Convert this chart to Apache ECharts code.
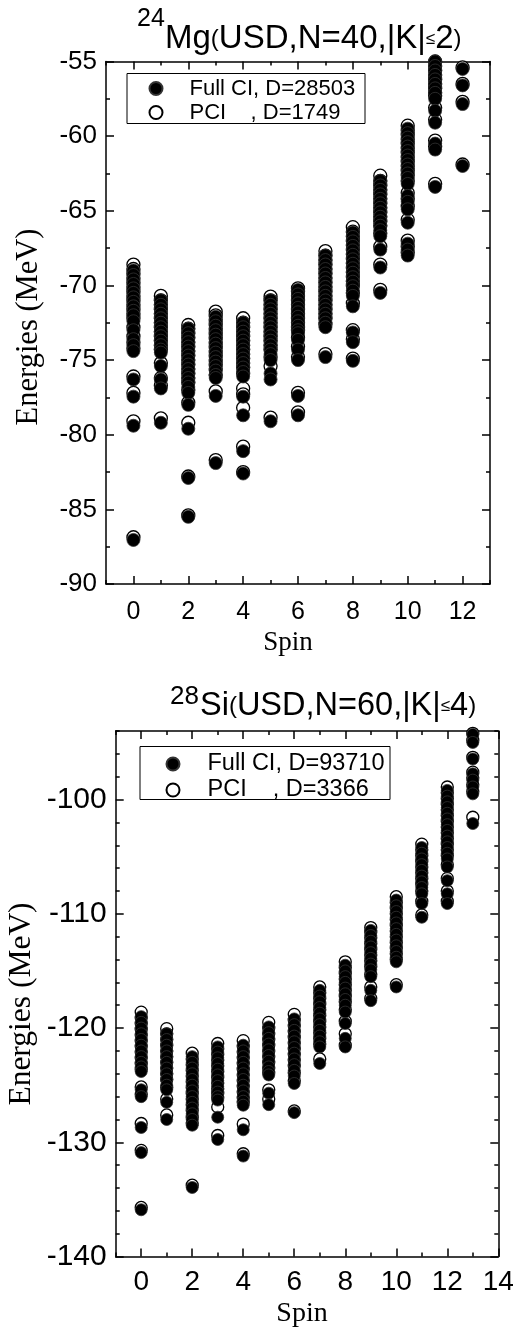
<!DOCTYPE html>
<html><head><meta charset="utf-8">
<script src="https://cdn.jsdelivr.net/npm/echarts@6/dist/echarts.min.js"></script>
<style>html,body{margin:0;padding:0;background:#fff}#c{width:517px;height:1330px}</style>
</head><body><div id="c"></div>
<script>
// ---------- 24Mg (USD, N=40, |K|<=2) ----------
const mgSpins = [0,1,2,3,4,5,6,7,8,9,10,11,12];
const mgFullCI = [
  [-69.0,-69.3,-69.6,-69.9,-70.2,-70.5,-70.8,-71.1,-71.4,-71.7,-72.0,-72.4,-73.0,-73.6,-74.0,-74.4,-76.3,-77.45,-79.4,-87.05],
  [-71.0,-71.3,-71.6,-71.9,-72.2,-72.5,-72.8,-73.1,-73.4,-73.7,-74.0,-74.3,-74.5,-75.4,-76.3,-76.9,-79.2],
  [-72.9,-73.2,-73.5,-73.8,-74.1,-74.4,-74.7,-75.0,-75.3,-75.6,-75.9,-76.2,-76.5,-76.8,-77.2,-78.0,-79.6,-82.9,-85.5],
  [-72.1,-72.4,-72.7,-73.0,-73.3,-73.6,-73.9,-74.2,-74.5,-74.8,-75.1,-75.4,-75.7,-76.0,-76.2,-77.4,-81.9],
  [-72.5,-72.8,-73.1,-73.4,-73.7,-74.0,-74.3,-74.6,-74.9,-75.2,-75.5,-75.8,-76.1,-77.45,-78.7,-81.1,-82.6],
  [-71.0,-71.3,-71.6,-71.9,-72.2,-72.5,-72.8,-73.1,-73.4,-73.7,-74.0,-74.3,-74.6,-75.0,-75.9,-76.3,-79.1],
  [-70.3,-70.6,-70.9,-71.2,-71.5,-71.8,-72.1,-72.4,-72.7,-73.0,-73.2,-73.65,-74.3,-75.0,-77.4,-78.7],
  [-68.0,-68.3,-68.6,-68.9,-69.2,-69.5,-69.8,-70.1,-70.4,-70.7,-71.0,-71.3,-71.6,-71.9,-72.2,-72.5,-72.8,-74.8],
  [-66.45,-66.75,-67.05,-67.35,-67.65,-67.95,-68.25,-68.55,-68.85,-69.15,-69.45,-69.75,-70.05,-70.35,-70.7,-71.4,-73.15,-73.8,-75.05],
  [-63.0,-63.3,-63.6,-63.9,-64.2,-64.5,-64.8,-65.1,-65.4,-65.7,-66.0,-66.3,-66.7,-67.6,-68.8,-70.5],
  [-59.5,-59.8,-60.1,-60.4,-60.7,-61.0,-61.3,-61.6,-61.9,-62.2,-62.5,-62.8,-63.2,-64.0,-64.4,-64.9,-65.8,-67.2,-67.6,-68.0],
  [-55.0,-55.3,-55.6,-55.9,-56.2,-56.5,-56.8,-57.1,-57.5,-58.3,-59.1,-60.5,-60.9,-63.4],
  [-55.5,-56.6,-57.85,-62.0]
];
const mgPCI = [
  [-68.6,-68.9,-69.2,-69.5,-69.8,-70.1,-70.4,-70.7,-71.0,-71.3,-71.6,-71.9,-72.2,-72.8,-73.4,-73.8,-74.2,-76.1,-77.2,-79.1,-86.87],
  [-70.7,-71.0,-71.3,-71.6,-71.9,-72.2,-72.5,-72.8,-73.1,-73.4,-73.7,-74.0,-74.3,-75.2,-76.2,-76.7,-78.9],
  [-72.65,-72.9,-73.2,-73.5,-73.8,-74.1,-74.4,-74.7,-75.0,-75.3,-75.6,-75.9,-76.2,-76.5,-77.0,-77.85,-79.2,-82.8,-85.4],
  [-71.75,-72.0,-72.3,-72.6,-72.9,-73.2,-73.5,-73.8,-74.1,-74.4,-74.7,-75.0,-75.3,-75.6,-76.0,-77.1,-81.7],
  [-72.2,-72.5,-72.8,-73.1,-73.4,-73.7,-74.0,-74.3,-74.6,-74.9,-75.2,-75.5,-75.9,-76.9,-77.3,-78.2,-80.8,-82.5],
  [-70.75,-71.0,-71.3,-71.6,-71.9,-72.2,-72.5,-72.8,-73.1,-73.4,-73.7,-74.0,-74.3,-74.8,-75.4,-78.85],
  [-70.2,-70.4,-70.7,-71.0,-71.3,-71.6,-71.9,-72.2,-72.5,-72.8,-73.0,-73.5,-74.1,-74.8,-77.2,-78.5],
  [-67.7,-68.0,-68.3,-68.6,-68.9,-69.2,-69.5,-69.8,-70.1,-70.4,-70.7,-71.0,-71.3,-71.6,-71.9,-72.2,-72.6,-74.6],
  [-66.1,-66.4,-66.7,-67.0,-67.3,-67.6,-67.9,-68.2,-68.5,-68.8,-69.1,-69.4,-69.7,-70.0,-70.5,-71.2,-73.0,-73.6,-74.9],
  [-62.65,-63.0,-63.3,-63.6,-63.9,-64.2,-64.5,-64.8,-65.1,-65.4,-65.7,-66.0,-66.5,-67.4,-68.6,-70.3],
  [-59.3,-59.6,-59.9,-60.2,-60.5,-60.8,-61.1,-61.4,-61.7,-62.0,-62.3,-62.6,-63.0,-63.8,-64.2,-64.7,-65.6,-67.0,-67.4,-67.8],
  [-55.0,-55.3,-55.6,-55.9,-56.2,-56.5,-56.8,-57.1,-57.3,-58.1,-58.9,-60.3,-60.7,-63.2],
  [-55.4,-56.5,-57.7,-61.9]
];
const mgXTicks = [0,2,4,6,8,10,12];
const mgYTicks = [-90,-85,-80,-75,-70,-65,-60,-55];

// ---------- 28Si (USD, N=60, |K|<=4) ----------
const siSpins = [0,1,2,3,4,5,6,7,8,9,10,11,12,13];
const siFullCI = [
  [-119.0,-119.5,-120.0,-120.5,-121.0,-121.5,-122.0,-122.5,-123.0,-123.4,-123.8,-125.4,-126.0,-128.7,-130.9,-135.9],
  [-120.5,-121.0,-121.5,-122.0,-122.5,-123.0,-123.5,-124.0,-124.5,-125.0,-125.4,-126.5,-128.0],
  [-122.5,-123.0,-123.5,-124.0,-124.5,-125.0,-125.5,-126.0,-126.5,-127.0,-127.5,-128.0,-128.5,-133.95],
  [-121.65,-122.1,-122.6,-123.1,-123.6,-124.1,-124.6,-125.1,-125.6,-126.0,-126.3,-127.8,-129.75],
  [-121.5,-122.0,-122.5,-123.0,-123.5,-124.0,-124.5,-125.0,-125.5,-126.0,-126.4,-126.75,-128.9,-131.2],
  [-119.9,-120.4,-120.9,-121.4,-121.9,-122.4,-122.9,-123.4,-123.8,-124.1,-125.7,-126.7],
  [-119.2,-119.7,-120.2,-120.7,-121.2,-121.7,-122.2,-122.7,-123.2,-123.7,-124.2,-124.85,-127.4],
  [-116.7,-117.2,-117.7,-118.2,-118.7,-119.2,-119.7,-120.2,-120.7,-121.2,-121.65,-123.1],
  [-114.5,-115.0,-115.5,-116.0,-116.5,-117.0,-117.5,-118.0,-118.6,-119.6,-120.9,-121.65],
  [-111.45,-111.9,-112.4,-112.9,-113.4,-113.9,-114.4,-114.9,-115.5,-116.7,-117.6],
  [-108.8,-109.3,-109.8,-110.3,-110.8,-111.3,-111.8,-112.3,-112.8,-113.3,-113.8,-114.2,-116.4],
  [-104.2,-104.7,-105.2,-105.7,-106.2,-106.7,-107.2,-107.7,-108.25,-109.1,-110.3],
  [-99.2,-99.7,-100.2,-100.7,-101.2,-101.7,-102.2,-102.7,-103.2,-103.7,-104.2,-104.7,-105.2,-105.9,-107.1,-108.25,-109.1],
  [-94.3,-95.0,-96.45,-97.75,-98.3,-98.9,-99.5,-102.1]
];
const siPCI = [
  [-118.6,-119.1,-119.6,-120.1,-120.6,-121.1,-121.6,-122.1,-122.6,-123.1,-123.6,-125.15,-125.8,-128.35,-130.7,-135.7],
  [-120.05,-120.5,-121.0,-121.5,-122.0,-122.5,-123.0,-123.5,-124.0,-124.5,-125.2,-126.2,-127.6],
  [-122.2,-122.7,-123.2,-123.7,-124.2,-124.7,-125.2,-125.7,-126.2,-126.7,-127.2,-127.8,-128.3,-133.75],
  [-121.35,-121.8,-122.3,-122.8,-123.3,-123.8,-124.3,-124.8,-125.3,-125.7,-126.1,-126.9,-129.4],
  [-121.1,-121.6,-122.1,-122.6,-123.1,-123.6,-124.1,-124.6,-125.1,-125.6,-126.1,-126.5,-128.4,-131.0],
  [-119.5,-120.0,-120.5,-121.0,-121.5,-122.0,-122.5,-123.0,-123.5,-123.9,-125.4,-126.2],
  [-118.8,-119.3,-119.8,-120.3,-120.8,-121.3,-121.8,-122.3,-122.8,-123.3,-123.9,-124.6,-127.25],
  [-116.4,-116.9,-117.4,-117.9,-118.4,-118.9,-119.4,-119.9,-120.4,-120.9,-121.4,-122.7],
  [-114.2,-114.7,-115.2,-115.7,-116.2,-116.7,-117.2,-117.7,-118.4,-119.4,-120.5,-121.5],
  [-111.2,-111.6,-112.1,-112.6,-113.1,-113.6,-114.1,-114.6,-115.3,-116.4,-117.4],
  [-108.5,-109.0,-109.5,-110.0,-110.5,-111.0,-111.5,-112.0,-112.5,-113.0,-113.5,-114.0,-116.2],
  [-103.9,-104.4,-104.9,-105.4,-105.9,-106.4,-106.9,-107.4,-108.0,-108.9,-110.1],
  [-98.9,-99.4,-99.9,-100.4,-100.9,-101.4,-101.9,-102.4,-102.9,-103.4,-103.9,-104.4,-104.9,-105.7,-106.9,-108.0,-108.9],
  [-94.2,-94.8,-96.3,-97.6,-98.1,-98.7,-99.3,-101.55]
];
const siXTicks = [0,2,4,6,8,10,12,14];
const siYTicks = [-140,-130,-120,-110,-100];

const legendMg = ['Full CI, D=28503', 'PCI    , D=1749'];
const legendSi = ['Full CI, D=93710', 'PCI    , D=3366'];

function toPoints(spins, levels) {
  const out = [];
  spins.forEach((s, i) => levels[i].forEach(v => out.push([s, v])));
  return out;
}

const SANS = 'Liberation Sans, Arial, sans-serif';
const SERIF = 'Liberation Serif, Times New Roman, serif';
const LINE = { color: '#000', width: 1.5 };

function xAxes(grid, min, max, ticks, fontSize, margin) {
  return [
    { type: 'value', gridIndex: grid, position: 'bottom', min, max,
      axisLine: { show: true, onZero: false, lineStyle: LINE },
      axisTick: { show: true, inside: true, length: 8, customValues: ticks, lineStyle: LINE },
      axisLabel: { show: true, customValues: ticks, color: '#000', fontSize, fontFamily: SANS, margin },
      splitLine: { show: false } },
    { type: 'value', gridIndex: grid, position: 'bottom', min, max, interval: 1,
      axisLine: { show: false, onZero: false },
      axisTick: { show: true, inside: true, length: 4, lineStyle: LINE },
      axisLabel: { show: false }, splitLine: { show: false } },
    { type: 'value', gridIndex: grid, position: 'top', min, max,
      axisLine: { show: true, onZero: false, lineStyle: LINE },
      axisTick: { show: true, inside: true, length: 8, customValues: ticks, lineStyle: LINE },
      axisLabel: { show: false }, splitLine: { show: false } },
    { type: 'value', gridIndex: grid, position: 'top', min, max, interval: 1,
      axisLine: { show: false, onZero: false },
      axisTick: { show: true, inside: true, length: 4, lineStyle: LINE },
      axisLabel: { show: false }, splitLine: { show: false } }
  ];
}
function yAxes(grid, min, max, ticks, minorInterval, fontSize) {
  const a = [];
  ['left', 'right'].forEach(pos => {
    a.push({ type: 'value', gridIndex: grid, position: pos, min, max,
      axisLine: { show: true, onZero: false, lineStyle: LINE },
      axisTick: { show: true, inside: true, length: 8, customValues: ticks, lineStyle: LINE },
      axisLabel: { show: pos === 'left', customValues: ticks, color: '#000', fontSize, fontFamily: SANS, margin: 9 },
      splitLine: { show: false } });
    a.push({ type: 'value', gridIndex: grid, position: pos, min, max, interval: minorInterval,
      axisLine: { show: false, onZero: false },
      axisTick: { show: true, inside: true, length: 4, lineStyle: LINE },
      axisLabel: { show: false }, splitLine: { show: false } });
  });
  return a;
}

function seriesPair(names, xi, yi, full, pci, spins, size) {
  return [
    { name: names[1], type: 'scatter', xAxisIndex: xi, yAxisIndex: yi, symbol: 'circle', symbolSize: size,
      itemStyle: { color: '#fff', borderColor: '#000', borderWidth: 1.3, opacity: 1 },
      data: toPoints(spins, pci), z: 2, clip: true, silent: true },
    { name: names[0], type: 'scatter', xAxisIndex: xi, yAxisIndex: yi, symbol: 'circle', symbolSize: size,
      itemStyle: { color: '#000', borderColor: '#333', borderWidth: 0.8, opacity: 1 },
      data: toPoints(spins, full), z: 3, clip: true, silent: true }
  ];
}

const chart = echarts.init(document.getElementById('c'), null, { renderer: 'canvas' });
const option = {
  animation: false,
  backgroundColor: '#fff',
  grid: [
    { left: 106, top: 61.5, width: 384, height: 522.5, show: false },
    { left: 115.7, top: 731, width: 382.6, height: 525.6, show: false }
  ],
  xAxis: [].concat(xAxes(0, -1, 13, mgXTicks, 25, 16), xAxes(1, -1, 14, siXTicks, 28, 12)),
  yAxis: [].concat(yAxes(0, -90, -55, mgYTicks, 2.5, 26), yAxes(1, -140, -94, siYTicks, 2, 30)),
  legend: [
    { data: legendMg, orient: 'vertical', left: 148.5, top: 77.5, padding: 0, itemWidth: 13, itemHeight: 13, itemGap: 2,
      selectedMode: false, textStyle: { fontSize: 22, lineHeight: 20, fontFamily: SANS, color: '#000', padding: [0, 0, 0, 22] } },
    { data: legendSi, orient: 'vertical', left: 165.5, top: 752, padding: 0, itemWidth: 13, itemHeight: 13, itemGap: 2,
      selectedMode: false, textStyle: { fontSize: 23.5, lineHeight: 21, fontFamily: SANS, color: '#000', padding: [0, 0, 0, 23] } }
  ],
  series: [].concat(
    seriesPair(legendMg, 0, 0, mgFullCI, mgPCI, mgSpins, 13),
    seriesPair(legendSi, 4, 4, siFullCI, siPCI, siSpins, 12)
  ),
  graphic: [
    { type: 'rect', shape: { x: 127, y: 73.5, width: 238, height: 50 }, style: { fill: 'none', stroke: '#000', lineWidth: 1 }, z: 10 },
    { type: 'rect', shape: { x: 140, y: 746.5, width: 250, height: 53 }, style: { fill: 'none', stroke: '#000', lineWidth: 1 }, z: 10 },
    { type: 'text', x: 137, y: 19.5, style: { text: '24', fontSize: 25, fontFamily: SANS, fill: '#000', verticalAlign: 'middle' } },
    { type: 'text', x: 165, y: 39, style: { text: '{a|Mg}{s|(}{a|USD,N=40,|K|}{t|≤}{a|2}{s|)}', verticalAlign: 'middle',
      rich: { a: { fontSize: 33, fontFamily: SANS, fill: '#000' }, s: { fontSize: 24, fontFamily: SANS, fill: '#000' }, t: { fontSize: 17, fontFamily: SANS, fill: '#000' } } } },
    { type: 'text', x: 170, y: 697, style: { text: '28', fontSize: 26, fontFamily: SANS, fill: '#000', verticalAlign: 'middle' } },
    { type: 'text', x: 200, y: 706, style: { text: '{a|Si}{s|(}{a|USD,N=60,|K|}{t|≤}{a|4}{s|)}', verticalAlign: 'middle',
      rich: { a: { fontSize: 32.5, fontFamily: SANS, fill: '#000' }, s: { fontSize: 24, fontFamily: SANS, fill: '#000' }, t: { fontSize: 17, fontFamily: SANS, fill: '#000' } } } },
    { type: 'text', x: 29, y: 327, rotation: Math.PI / 2, style: { text: 'Energies (MeV)', fontSize: 30.5, fontFamily: SERIF, fill: '#000', align: 'center', verticalAlign: 'middle' } },
    { type: 'text', x: 22, y: 1004, rotation: Math.PI / 2, style: { text: 'Energies (MeV)', fontSize: 31.5, fontFamily: SERIF, fill: '#000', align: 'center', verticalAlign: 'middle' } },
    { type: 'text', x: 288, y: 643, style: { text: 'Spin', fontSize: 27, fontFamily: SERIF, fill: '#000', align: 'center', verticalAlign: 'middle' } },
    { type: 'text', x: 302, y: 1314, style: { text: 'Spin', fontSize: 28, fontFamily: SERIF, fill: '#000', align: 'center', verticalAlign: 'middle' } }
  ]
};
chart.setOption(option);
</script>
</body></html>
